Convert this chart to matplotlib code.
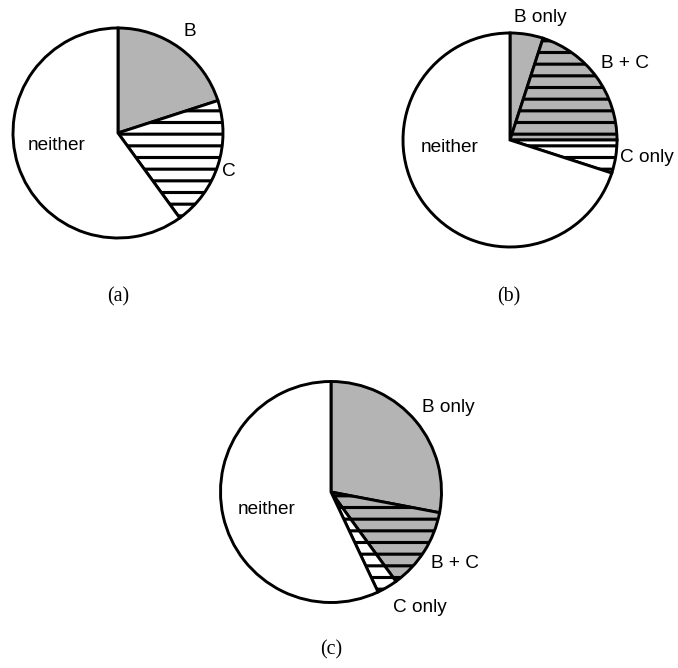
import matplotlib
matplotlib.use("Agg")
import matplotlib.pyplot as plt

W, H, DPI = 678, 668, 70

GRAY = "#b4b4b4"

# wedge shares, clockwise from 12 o'clock
labels_a = ["B", "C", "neither"]
values_a = [20, 20, 60]

labels_b = ["B only", "B + C", "C only", "neither"]
values_b = [5, 20, 5, 70]

labels_c = ["B only", "B + C", "C only", "neither"]
values_c = [28, 12, 3, 57]

# fill / hatch for each kind of region
STYLE = {
    "B": (GRAY, None),
    "B only": (GRAY, None),
    "C": ("white", "-"),
    "C only": ("white", "-"),
    "B + C": (GRAY, "-"),
    "neither": ("white", None),
}

plt.rcParams["hatch.linewidth"] = 3.2
plt.rcParams["hatch.color"] = "black"

fig = plt.figure(figsize=(W / DPI, H / DPI), dpi=DPI)
ax = fig.add_axes([0, 0, 1, 1])


def draw_pie(ax, labels, values, center, radius, label_pos, caption, caption_pos):
    cx, cy = center
    wedges, _ = ax.pie(values, center=(cx, H - cy), radius=radius,
                       startangle=90, counterclock=False,
                       wedgeprops=dict(edgecolor="black", linewidth=3.0))
    for w, lab in zip(wedges, labels):
        face, hatch = STYLE[lab]
        w.set_facecolor(face)
        if hatch:
            w.set_hatch(hatch)
    for lab, (x, y) in zip(labels, label_pos):
        ax.text(x, H - y, lab, ha="center", va="center",
                fontsize=19.5, family="Liberation Sans")
    ax.text(caption_pos[0], H - caption_pos[1], caption, ha="center",
            va="center", fontsize=20.5, family="Liberation Serif")


draw_pie(ax, labels_a, values_a, (118, 133), 105,
         [(190, 32), (229, 172), (57, 146)], "(a)", (118, 297))
draw_pie(ax, labels_b, values_b, (510, 140), 107,
         [(540, 17), (625, 63), (647, 157), (450, 148)], "(b)", (509, 297))
draw_pie(ax, labels_c, values_c, (331, 492), 110.5,
         [(448, 407), (455, 563), (420, 607), (267, 510)], "(c)", (331, 650))

ax.set_xlim(0, W)
ax.set_ylim(0, H)
ax.set_aspect("auto")
ax.axis("off")

fig.savefig("out.png", dpi=DPI, facecolor="white")
